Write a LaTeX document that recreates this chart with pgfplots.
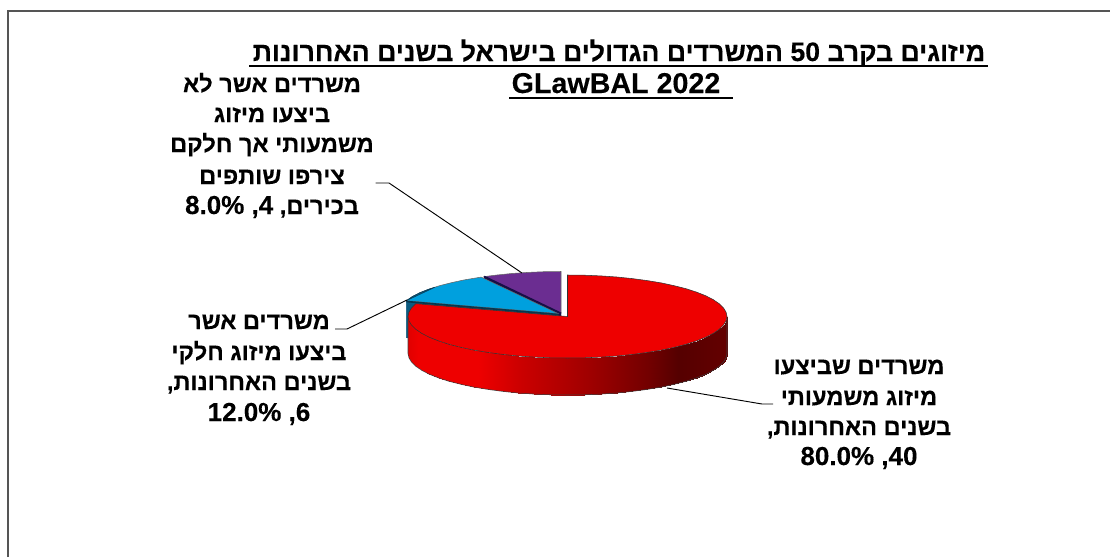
\documentclass[border=0pt]{standalone}
\usepackage{fontspec}
\usepackage{pgfplots}
\pgfplotsset{compat=1.18}
\TeXXeTstate=1
\newfontfamily\he[Script=Hebrew,BoldFeatures={FakeBold=0.25}]{Liberation Sans}
\definecolor{frameg}{RGB}{85,85,85}
\definecolor{redtop}{RGB}{238,0,0}
\definecolor{bluetop}{RGB}{0,160,222}
\definecolor{bluewall}{RGB}{12,90,128}
\definecolor{purptop}{RGB}{107,45,145}
\definecolor{purpwall}{RGB}{24,14,70}
\newcommand{\lab}[3]{\node[anchor=base,inner sep=0pt,font=\he\bfseries\fontsize{17.7pt}{17.7pt}\selectfont,text=black] at (axis cs:#1,#2) {#3};}
\newcommand{\tit}[4]{\node[anchor=base,inner sep=0pt,font=\he\bfseries\fontsize{#4}{#4}\selectfont,text=black] at (axis cs:#1,#2) {#3};}
\begin{document}
\begin{tikzpicture}
\useasboundingbox (0,0) rectangle (832.5pt,417.75pt);
\begin{axis}[
  at={(0,0)}, anchor=south west,
  scale only axis, width=832.5pt, height=417.75pt,
  xmin=0, xmax=1110, ymin=0, ymax=557, y dir=reverse,
  hide axis, clip=true,
  colormap={redside}{rgb255(0pt)=(225,0,0); rgb255(10pt)=(238,0,0); rgb255(70pt)=(238,0,0); rgb255(110pt)=(205,0,0); rgb255(180pt)=(160,0,0); rgb255(240pt)=(115,0,0); rgb255(270pt)=(85,0,0); rgb255(320pt)=(100,0,0)},
  point meta min=408, point meta max=728,
]
% frame
\addplot[no marks, frameg, line width=1.1pt] coordinates {(8,557)(8,11)(1110,11)};
% purple wedge (8%): wall, then top
\addplot[fill=purpwall, draw=purpwall, line width=0.3pt] coordinates {(484.1,276.6)(561,313)(561,350)(484.1,313.6)} -- cycle;
\addplot[fill=purptop, draw=black!60, line width=0.4pt] coordinates {(561,313)(484.1,276.6)(496.1,275.1)(511.7,273.5)(527.8,272.4)(544.3,271.7)(561,271.5)} -- cycle;
\addplot[no marks, purpwall, line width=1.5pt] coordinates {(484.1,276.6)(561,313.5)};
% blue wedge (12%): wall, top, dark sliver
\addplot[fill=bluewall, draw=bluewall, line width=0.3pt] coordinates {(406.3,300.7)(558,313.5)(558,350.5)(406.3,337.7)} -- cycle;
\addplot[fill=bluetop, draw=black!60, line width=0.4pt] coordinates {(558,313.5)(406.3,300.7)(412.3,296.6)(419.9,292.7)(429.0,289.1)(439.5,285.7)(451.3,282.7)(464.2,279.9)(478.2,277.6)(481.1,277.1)} -- cycle;
\addplot[fill=bluewall, draw=bluewall!70!black, line width=0.4pt] coordinates {(406.3,300.7)(412.3,296.6)(419.9,292.7)(429.0,289.1)(435,287.2)} -- cycle;
\addplot[no marks, bluewall!60!black, line width=1.2pt] coordinates {(406.3,301.5)(558,314.5)};
% red wedge (80%): curved side
\addplot[surf, shader=interp, mesh/rows=2, point meta=x] coordinates {
(727.0,316.5)(726.1,320.8)(723.5,325.1)(719.2,329.3)(713.2,333.4)(705.6,337.3)(696.5,340.9)(686.0,344.3)(674.2,347.3)(661.3,350.1)(647.3,352.4)(632.4,354.4)(616.8,356.0)(600.7,357.1)(584.2,357.8)(567.5,358.0)(550.8,357.8)(534.3,357.1)(518.2,356.0)(502.6,354.4)(487.7,352.4)(473.7,350.1)(460.8,347.3)(449.0,344.3)(438.5,340.9)(429.4,337.3)(421.8,333.4)(415.8,329.3)(411.5,325.1)(408.9,320.8)(408.0,316.5)

(727.0,353.5)(726.1,357.8)(723.5,362.1)(719.2,366.3)(713.2,370.4)(705.6,374.3)(696.5,377.9)(686.0,381.3)(674.2,384.3)(661.3,387.1)(647.3,389.4)(632.4,391.4)(616.8,393.0)(600.7,394.1)(584.2,394.8)(567.5,395.0)(550.8,394.8)(534.3,394.1)(518.2,393.0)(502.6,391.4)(487.7,389.4)(473.7,387.1)(460.8,384.3)(449.0,381.3)(438.5,377.9)(429.4,374.3)(421.8,370.4)(415.8,366.3)(411.5,362.1)(408.9,357.8)(408.0,353.5)
};
\addplot[no marks, black!75, line width=0.4pt] coordinates {(727.0,316.5)(727.0,353.5)(726.1,357.8)(723.5,362.1)(719.2,366.3)(713.2,370.4)(705.6,374.3)(696.5,377.9)(686.0,381.3)(674.2,384.3)(661.3,387.1)(647.3,389.4)(632.4,391.4)(616.8,393.0)(600.7,394.1)(584.2,394.8)(567.5,395.0)(550.8,394.8)(534.3,394.1)(518.2,393.0)(502.6,391.4)(487.7,389.4)(473.7,387.1)(460.8,384.3)(449.0,381.3)(438.5,377.9)(429.4,374.3)(421.8,370.4)(415.8,366.3)(411.5,362.1)(408.9,357.8)(408.0,353.5)(408.0,316.5)};
% red wedge: top face
\addplot[fill=redtop, draw=black!80, line width=0.4pt] coordinates {(567.5,316.5)(567.5,275.0)(584.2,275.2)(600.7,275.9)(616.8,277.0)(632.4,278.6)(647.3,280.6)(661.3,282.9)(674.2,285.7)(686.0,288.7)(696.5,292.1)(705.6,295.7)(713.2,299.6)(719.2,303.7)(723.5,307.9)(726.1,312.2)(727.0,316.5)(726.1,320.8)(723.5,325.1)(719.2,329.3)(713.2,333.4)(705.6,337.3)(696.5,340.9)(686.0,344.3)(674.2,347.3)(661.3,350.1)(647.3,352.4)(632.4,354.4)(616.8,356.0)(600.7,357.1)(584.2,357.8)(567.5,358.0)(550.8,357.8)(534.3,357.1)(518.2,356.0)(502.6,354.4)(487.7,352.4)(473.7,350.1)(460.8,347.3)(449.0,344.3)(438.5,340.9)(429.4,337.3)(421.8,333.4)(415.8,329.3)(411.5,325.1)(408.9,320.8)(408.0,316.5)(408.9,312.2)(411.5,307.9)(415.8,303.7)} -- cycle;
% leader lines
\addplot[no marks, black, line width=0.7pt] coordinates {(667,388)(762,404)(773,404)};
\addplot[no marks, black, line width=0.7pt] coordinates {(407,300)(347,329)(335,329)};
\addplot[no marks, black, line width=0.7pt] coordinates {(522,273)(389,183)(375.5,183)};
% title underlines
\addplot[no marks, black, line width=1.4pt] coordinates {(249,66)(988,66)};
\addplot[no marks, black, line width=1.4pt] coordinates {(509,98)(732.5,98)};
% title
\tit{619}{61}{\beginR מיזוגים בקרב \beginL50\endL{} המשרדים הגדולים בישראל בשנים האחרונות\endR}{20pt}
\tit{616}{93}{GLawBAL 2022}{21.5pt}
% labels
\lab{272}{92}{\beginR משרדים אשר לא\endR}
\lab{272}{122}{\beginR ביצעו מיזוג\endR}
\lab{272}{152}{\beginR משמעותי אך חלקם\endR}
\lab{272}{184}{\beginR צירפו שותפים\endR}
\lab{272}{214}{\beginR בכירים, \beginL\fontsize{19.5pt}{19.5pt}\selectfont4\endL, \beginL\fontsize{19.5pt}{19.5pt}\selectfont8.0\%\endL\endR}
\lab{259}{329}{\beginR משרדים אשר\endR}
\lab{259}{360}{\beginR ביצעו מיזוג חלקי\endR}
\lab{259}{390}{\beginR בשנים האחרונות,\endR}
\lab{259}{421}{\fontsize{19.5pt}{19.5pt}\selectfont\beginR \beginL6\endL, \beginL12.0\%\endL\endR}
\lab{859}{374}{\beginR משרדים שביצעו\endR}
\lab{859}{405}{\beginR מיזוג משמעותי\endR}
\lab{859}{435}{\beginR בשנים האחרונות,\endR}
\lab{859}{465}{\fontsize{19.5pt}{19.5pt}\selectfont\beginR \beginL40\endL, \beginL80.0\%\endL\endR}
\end{axis}
\end{tikzpicture}
\end{document}
